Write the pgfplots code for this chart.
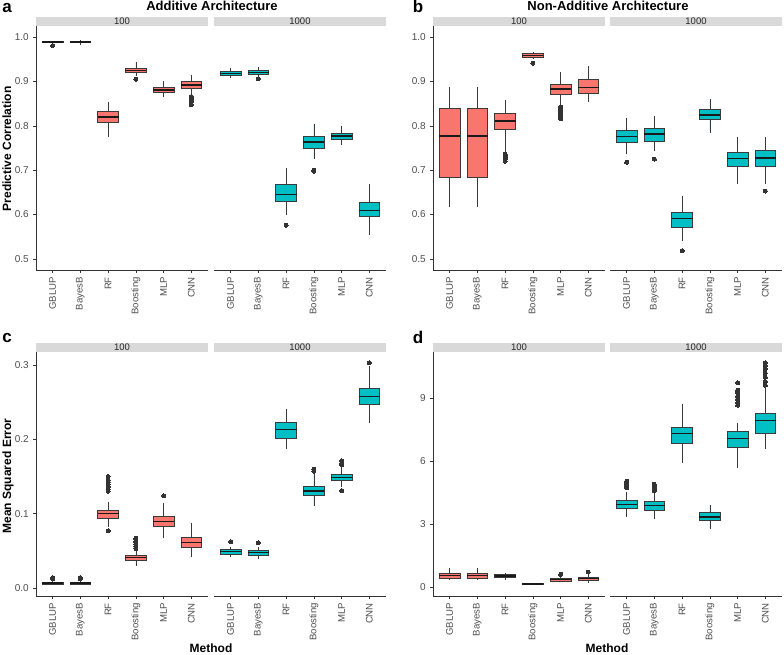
\documentclass[border=0pt]{standalone}
\usepackage{fontspec}
\setmainfont{Liberation Sans}
\usepackage{pgfplots}
\usepgfplotslibrary{statistics}
\pgfplotsset{compat=1.18}
\definecolor{salmon}{HTML}{F8766D}
\definecolor{tealc}{HTML}{00BFC4}
\definecolor{boxd}{HTML}{3A3A3A}
\definecolor{axc}{HTML}{333333}
\definecolor{tickc}{HTML}{4D4D4D}
\definecolor{stripc}{HTML}{D9D9D9}
\pgfplotsset{
 facet/.style={
  scale only axis, width=172pt, height=244pt,
  xmin=0.4, xmax=6.6, xtick={1,2,3,4,5,6},
  xticklabels={GBLUP,BayesB,RF,Boosting,MLP,CNN},
  xticklabel style={rotate=90, anchor=east, font=\fontsize{9.6}{10}\selectfont, text=tickc, inner sep=1pt},
  xticklabel shift=3pt,
  yticklabel style={font=\fontsize{10}{10}\selectfont, text=tickc, inner sep=1pt},
  yticklabel shift=3pt,
  tick align=outside, major tick length=3pt,
  tick style={draw=axc, line width=0.6pt},
  axis line style={draw=axc, line width=0.7pt},
  axis x line*=bottom,
  title style={at={(0.5,1)}, anchor=south, yshift=-6pt, fill=stripc, minimum width=172pt, minimum height=8.7pt, inner sep=0pt, outer sep=0pt, font=\fontsize{9.5}{9.5}\selectfont, text=black!85},
  boxplot/draw direction=y,
  boxplot/box extend=0.75, boxplot/whisker extend=0,
  boxplot/every median/.style={draw=black!90, line width=1.5pt},
 },
 leftfacet/.style={facet, axis y line*=left},
 rightfacet/.style={facet, axis y line=none},
 bxs/.style={draw=boxd, line width=0.7pt, mark=*, mark size=2pt, mark options={fill=black!80, draw=black!80, line width=0pt}},
}
\newcommand{\bx}[7]{\addplot[bxs, fill=#7, boxplot prepared={draw position=#1, lower whisker=#2, lower quartile=#3, median=#4, upper quartile=#5, upper whisker=#6}] coordinates {};}
\newcommand{\bxo}[8]{\addplot[bxs, fill=#7, boxplot prepared={draw position=#1, lower whisker=#2, lower quartile=#3, median=#4, upper quartile=#5, upper whisker=#6}] table[row sep=\\, y index=0] {v\\#8};}
\begin{document}
\begin{tikzpicture}
\useasboundingbox (0,0) rectangle (784pt,655pt);
% ---------- panel a ----------
\begin{axis}[leftfacet, at={(36pt,385pt)}, anchor=south west, title={100},
  ymin=0.475, ymax=1.025, ytick={0.5,0.6,0.7,0.8,0.9,1.0}, yticklabels={0.5,0.6,0.7,0.8,0.9,1.0}]
\bxo{1}{0.985}{0.987}{0.989}{0.990}{0.992}{salmon}{0.981\\}
\bx{2}{0.982}{0.987}{0.989}{0.990}{0.993}{salmon}
\bx{3}{0.775}{0.807}{0.820}{0.833}{0.853}{salmon}
\bxo{4}{0.912}{0.9205}{0.925}{0.9295}{0.943}{salmon}{0.905\\}
\bx{5}{0.864}{0.8756}{0.881}{0.8876}{0.902}{salmon}
\bxo{6}{0.870}{0.8846}{0.892}{0.8996}{0.914}{salmon}{0.866\\0.862\\0.858\\0.855\\0.847\\}
\end{axis}
\begin{axis}[rightfacet, at={(214pt,385pt)}, anchor=south west, title={1000}, ymin=0.475, ymax=1.025]
\bx{1}{0.908}{0.914}{0.918}{0.922}{0.931}{tealc}
\bxo{2}{0.912}{0.916}{0.920}{0.924}{0.932}{tealc}{0.906\\}
\bxo{3}{0.598}{0.630}{0.645}{0.667}{0.704}{tealc}{0.576\\}
\bxo{4}{0.725}{0.750}{0.763}{0.776}{0.804}{tealc}{0.700\\0.698\\}
\bx{5}{0.756}{0.769}{0.777}{0.784}{0.799}{tealc}
\bx{6}{0.555}{0.595}{0.609}{0.627}{0.668}{tealc}
\end{axis}
% ---------- panel b ----------
\begin{axis}[leftfacet, at={(433pt,385pt)}, anchor=south west, title={100},
  ymin=0.475, ymax=1.025, ytick={0.5,0.6,0.7,0.8,0.9,1.0}, yticklabels={0.5,0.6,0.7,0.8,0.9,1.0}]
\bx{1}{0.618}{0.684}{0.777}{0.840}{0.888}{salmon}
\bx{2}{0.618}{0.684}{0.777}{0.840}{0.888}{salmon}
\bxo{3}{0.740}{0.791}{0.811}{0.828}{0.858}{salmon}{0.736\\0.732\\0.728\\0.724\\0.720\\}
\bxo{4}{0.951}{0.954}{0.959}{0.963}{0.966}{salmon}{0.941\\}
\bxo{5}{0.847}{0.872}{0.883}{0.894}{0.922}{salmon}{0.843\\0.839\\0.835\\0.830\\0.826\\0.821\\0.816\\}
\bx{6}{0.854}{0.873}{0.886}{0.905}{0.935}{salmon}
\end{axis}
\begin{axis}[rightfacet, at={(610pt,385pt)}, anchor=south west, title={1000}, ymin=0.475, ymax=1.025]
\bxo{1}{0.736}{0.763}{0.776}{0.789}{0.817}{tealc}{0.718\\}
\bxo{2}{0.744}{0.766}{0.782}{0.794}{0.822}{tealc}{0.725\\}
\bxo{3}{0.540}{0.572}{0.591}{0.606}{0.641}{tealc}{0.518\\}
\bx{4}{0.784}{0.814}{0.824}{0.836}{0.860}{tealc}
\bx{5}{0.668}{0.709}{0.726}{0.740}{0.775}{tealc}
\bxo{6}{0.669}{0.709}{0.727}{0.745}{0.775}{tealc}{0.653\\}
\end{axis}
% ---------- panel c ----------
\begin{axis}[leftfacet, at={(36pt,59pt)}, anchor=south west, title={100},
  ymin=-0.0108, ymax=0.3175, ytick={0,0.1,0.2,0.3}, yticklabels={0.0,0.1,0.2,0.3}]
\bxo{1}{0.004}{0.0054}{0.0067}{0.0081}{0.011}{salmon}{0.012\\0.013\\0.014\\}
\bxo{2}{0.004}{0.0054}{0.0067}{0.0081}{0.011}{salmon}{0.012\\0.013\\0.014\\}
\bxo{3}{0.0816}{0.0933}{0.1004}{0.1045}{0.115}{salmon}{0.0767\\0.130\\0.133\\0.136\\0.139\\0.142\\0.145\\0.150\\}
\bxo{4}{0.030}{0.0377}{0.0408}{0.0444}{0.051}{salmon}{0.053\\0.056\\0.059\\0.062\\0.065\\0.067\\}
\bxo{5}{0.0677}{0.0825}{0.0897}{0.0969}{0.114}{salmon}{0.124\\}
\bx{6}{0.0413}{0.0543}{0.061}{0.0682}{0.088}{salmon}
\end{axis}
\begin{axis}[rightfacet, at={(214pt,59pt)}, anchor=south west, title={1000}, ymin=-0.0108, ymax=0.3175]
\bxo{1}{0.042}{0.0453}{0.0489}{0.052}{0.0556}{tealc}{0.0623\\}
\bxo{2}{0.0395}{0.0444}{0.048}{0.0511}{0.0547}{tealc}{0.061\\}
\bx{3}{0.1874}{0.2013}{0.2135}{0.2224}{0.2404}{tealc}
\bxo{4}{0.1103}{0.1242}{0.1305}{0.1372}{0.1543}{tealc}{0.157\\0.160\\}
\bxo{5}{0.1363}{0.1448}{0.1489}{0.1529}{0.164}{tealc}{0.131\\0.166\\0.168\\0.171\\}
\bxo{6}{0.2224}{0.2471}{0.2578}{0.2691}{0.2987}{tealc}{0.3027\\}
\end{axis}
% ---------- panel d ----------
\begin{axis}[leftfacet, at={(433pt,59pt)}, anchor=south west, title={100},
  ymin=-0.41, ymax=11.2, ytick={0,3,6,9}, yticklabels={0,3,6,9}]
\bx{1}{0.33}{0.413}{0.556}{0.667}{0.905}{salmon}
\bx{2}{0.33}{0.413}{0.556}{0.667}{0.905}{salmon}
\bx{3}{0.365}{0.46}{0.54}{0.62}{0.70}{salmon}
\bx{4}{0.12}{0.14}{0.16}{0.17}{0.19}{salmon}
\bxo{5}{0.24}{0.30}{0.365}{0.43}{0.52}{salmon}{0.62\\}
\bxo{6}{0.22}{0.33}{0.43}{0.49}{0.60}{salmon}{0.73\\}
\end{axis}
\begin{axis}[rightfacet, at={(610pt,59pt)}, anchor=south west, title={1000}, ymin=-0.41, ymax=11.2]
\bxo{1}{3.33}{3.75}{3.94}{4.16}{4.54}{tealc}{4.73\\4.85\\4.95\\5.05\\}
\bxo{2}{3.27}{3.68}{3.89}{4.08}{4.49}{tealc}{4.59\\4.70\\4.80\\4.90\\}
\bx{3}{5.92}{6.84}{7.33}{7.63}{8.71}{tealc}
\bx{4}{2.76}{3.17}{3.35}{3.56}{3.94}{tealc}
\bxo{5}{5.67}{6.65}{7.08}{7.43}{7.83}{tealc}{8.67\\8.80\\8.95\\9.10\\9.25\\9.38\\9.73\\}
\bxo{6}{6.57}{7.35}{7.95}{8.30}{9.54}{tealc}{9.62\\9.80\\10.0\\10.2\\10.4\\10.55\\10.68\\}
\end{axis}
% ---------- titles and labels ----------
\node[anchor=base, font=\bfseries\fontsize{17}{17}\selectfont] at (7pt,642.5pt) {a};
\node[anchor=base, font=\bfseries\fontsize{17}{17}\selectfont] at (418pt,642pt) {b};
\node[anchor=base, font=\bfseries\fontsize{17}{17}\selectfont] at (7pt,312pt) {c};
\node[anchor=base, font=\bfseries\fontsize{17}{17}\selectfont] at (418pt,311.5pt) {d};
\node[anchor=base, font=\bfseries\fontsize{13}{13}\selectfont] at (212pt,644.5pt) {Additive Architecture};
\node[anchor=base, font=\bfseries\fontsize{13}{13}\selectfont] at (608pt,644.5pt) {Non-Additive Architecture};
\node[anchor=base, rotate=90, font=\bfseries\fontsize{12}{12}\selectfont] at (11pt,506pt) {Predictive Correlation};
\node[anchor=base, rotate=90, font=\bfseries\fontsize{12}{12}\selectfont] at (11pt,179pt) {Mean Squared Error};
\node[anchor=base, font=\bfseries\fontsize{12}{12}\selectfont] at (211pt,2pt) {Method};
\node[anchor=base, font=\bfseries\fontsize{12}{12}\selectfont] at (607pt,2pt) {Method};
\end{tikzpicture}
\end{document}
